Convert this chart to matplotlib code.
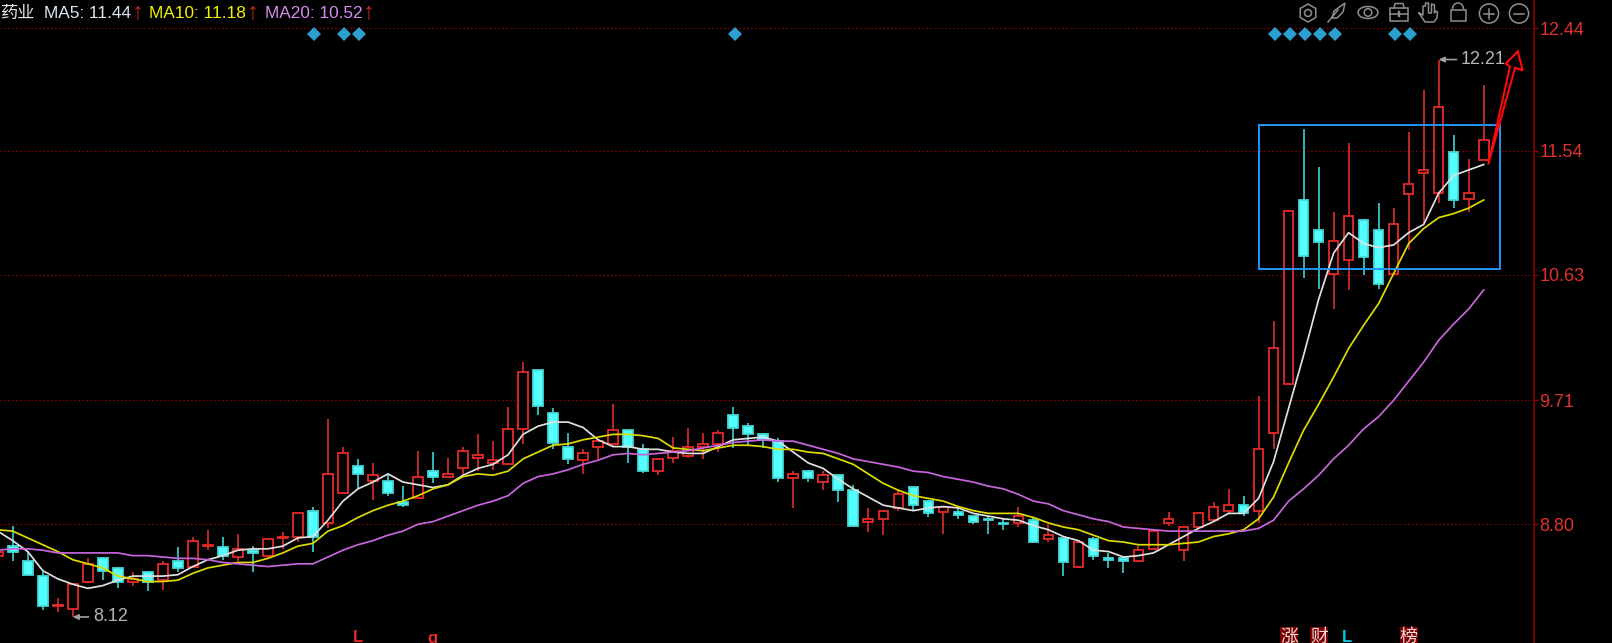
"""
K-line chart with MA5/MA10/MA20, box and arrow annotations, dark terminal style.
"""

import matplotlib
matplotlib.use('Agg')
import matplotlib.pyplot as plt
from matplotlib.patches import Circle, Ellipse, Polygon, Rectangle, RegularPolygon, Arc

plt.rcParams['font.family'] = ['Liberation Sans', 'Noto Sans CJK SC', 'DejaVu Sans']

# Candles
opens = [8.57, 8.64, 8.53, 8.42, 8.20, 8.18, 8.38, 8.55, 8.48, 8.38,
         8.45, 8.39, 8.53, 8.49, 8.64, 8.63, 8.56, 8.61, 8.57, 8.70,
         8.71, 8.90, 8.81, 9.03, 9.23, 9.12, 9.12, 8.96, 8.99, 9.19,
         9.15, 9.21, 9.29, 9.25, 9.24, 9.50, 9.93, 9.62, 9.37, 9.27,
         9.37, 9.39, 9.49, 9.35, 9.19, 9.29, 9.30, 9.37, 9.39, 9.60,
         9.52, 9.46, 9.41, 9.14, 9.19, 9.11, 9.16, 9.05, 8.82, 8.84,
         8.92, 9.07, 8.97, 8.89, 8.89, 8.86, 8.84, 8.81, 8.81, 8.83,
         8.69, 8.70, 8.49, 8.69, 8.55, 8.55, 8.53, 8.62, 8.81, 8.61,
         8.78, 8.83, 8.90, 8.94, 8.90, 9.47, 9.83, 11.18, 10.96, 10.64,
         10.74, 11.03, 10.96, 10.64, 11.22, 11.38, 11.23, 11.53, 11.19, 11.47]
closes = [8.60, 8.60, 8.43, 8.20, 8.21, 8.36, 8.51, 8.46, 8.38, 8.40,
          8.38, 8.51, 8.48, 8.68, 8.65, 8.57, 8.62, 8.59, 8.69, 8.71,
          8.88, 8.71, 9.17, 9.32, 9.17, 9.16, 9.03, 8.94, 9.15, 9.15,
          9.17, 9.34, 9.31, 9.27, 9.50, 9.92, 9.67, 9.40, 9.28, 9.32,
          9.41, 9.49, 9.37, 9.19, 9.28, 9.34, 9.37, 9.39, 9.47, 9.51,
          9.46, 9.42, 9.14, 9.17, 9.14, 9.16, 9.05, 8.79, 8.84, 8.90,
          9.02, 8.94, 8.88, 8.93, 8.87, 8.82, 8.83, 8.80, 8.86, 8.67,
          8.72, 8.52, 8.67, 8.57, 8.54, 8.53, 8.61, 8.75, 8.84, 8.78,
          8.88, 8.93, 8.94, 8.88, 9.35, 10.09, 11.10, 10.77, 10.87, 10.88,
          11.06, 10.76, 10.56, 11.00, 11.30, 11.40, 11.86, 11.18, 11.23, 11.62]
highs = [8.60, 8.79, 8.60, 8.45, 8.26, 8.37, 8.55, 8.56, 8.49, 8.45,
         8.46, 8.53, 8.63, 8.71, 8.76, 8.71, 8.73, 8.64, 8.70, 8.74,
         8.89, 8.93, 9.57, 9.37, 9.28, 9.25, 9.16, 9.08, 9.34, 9.33,
         9.29, 9.37, 9.46, 9.41, 9.66, 9.99, 9.93, 9.65, 9.47, 9.35,
         9.41, 9.68, 9.49, 9.39, 9.28, 9.44, 9.51, 9.47, 9.49, 9.66,
         9.54, 9.47, 9.43, 9.19, 9.19, 9.19, 9.16, 9.09, 8.92, 8.90,
         9.05, 9.07, 8.98, 8.93, 8.92, 8.86, 8.86, 8.84, 8.93, 8.85,
         8.80, 8.70, 8.67, 8.71, 8.59, 8.56, 8.64, 8.75, 8.89, 8.79,
         8.88, 8.96, 9.06, 9.01, 9.74, 10.29, 11.10, 11.70, 11.42, 11.09,
         11.60, 11.04, 11.16, 11.12, 11.68, 11.99, 12.21, 11.66, 11.48, 12.02]
lows = [8.57, 8.53, 8.42, 8.17, 8.16, 8.12, 8.37, 8.39, 8.33, 8.35,
        8.31, 8.32, 8.45, 8.48, 8.61, 8.54, 8.53, 8.45, 8.55, 8.62,
        8.67, 8.60, 8.77, 9.03, 9.06, 8.98, 9.01, 8.93, 8.99, 9.10,
        9.15, 9.16, 9.19, 9.20, 9.24, 9.39, 9.60, 9.35, 9.24, 9.17,
        9.28, 9.37, 9.25, 9.18, 9.16, 9.25, 9.29, 9.28, 9.33, 9.36,
        9.38, 9.36, 9.11, 8.92, 9.11, 9.05, 8.96, 8.78, 8.74, 8.72,
        8.90, 8.90, 8.85, 8.73, 8.84, 8.80, 8.73, 8.76, 8.78, 8.66,
        8.67, 8.42, 8.48, 8.54, 8.48, 8.44, 8.53, 8.61, 8.79, 8.53,
        8.77, 8.83, 8.88, 8.86, 8.81, 9.35, 9.83, 10.61, 10.53, 10.38,
        10.52, 10.63, 10.53, 10.63, 10.81, 11.00, 11.16, 11.12, 11.09, 11.47]

ma5 = [8.75, 8.68, 8.60, 8.46, 8.40, 8.36, 8.33, 8.35, 8.39, 8.42,
       8.42, 8.42, 8.43, 8.49, 8.54, 8.57, 8.61, 8.62, 8.62, 8.64,
       8.70, 8.71, 8.83, 8.97, 9.06, 9.11, 9.17, 9.11, 9.09, 9.07,
       9.09, 9.16, 9.21, 9.24, 9.31, 9.46, 9.52, 9.55, 9.55, 9.51,
       9.42, 9.37, 9.37, 9.35, 9.35, 9.33, 9.32, 9.32, 9.37, 9.42,
       9.43, 9.44, 9.41, 9.33, 9.25, 9.21, 9.13, 9.06, 9.00, 8.94,
       8.92, 8.90, 8.92, 8.93, 8.92, 8.88, 8.86, 8.84, 8.83, 8.79,
       8.76, 8.71, 8.68, 8.61, 8.60, 8.56, 8.57, 8.59, 8.65, 8.71,
       8.77, 8.82, 8.88, 8.88, 8.99, 9.26, 9.65, 10.04, 10.45, 10.79,
       10.94, 10.86, 10.83, 10.85, 10.94, 11.00, 11.23, 11.36, 11.40, 11.44]
ma10 = [8.76, 8.75, 8.70, 8.65, 8.60, 8.54, 8.51, 8.48, 8.42, 8.40,
        8.38, 8.38, 8.39, 8.44, 8.48, 8.50, 8.52, 8.52, 8.55, 8.59,
        8.64, 8.66, 8.75, 8.79, 8.85, 8.90, 8.94, 8.97, 9.01, 9.06,
        9.09, 9.15, 9.17, 9.16, 9.19, 9.28, 9.33, 9.38, 9.39, 9.42,
        9.44, 9.46, 9.46, 9.45, 9.43, 9.36, 9.35, 9.34, 9.36, 9.38,
        9.38, 9.37, 9.35, 9.35, 9.33, 9.32, 9.28, 9.24, 9.17, 9.10,
        9.05, 9.01, 8.99, 8.97, 8.93, 8.90, 8.88, 8.88, 8.88, 8.85,
        8.81, 8.78, 8.76, 8.72, 8.68, 8.67, 8.65, 8.65, 8.65, 8.66,
        8.67, 8.71, 8.73, 8.76, 8.84, 9.00, 9.25, 9.49, 9.68, 9.88,
        10.09, 10.26, 10.42, 10.64, 10.86, 10.97, 11.05, 11.08, 11.12, 11.18]
ma20 = [8.61, 8.62, 8.62, 8.61, 8.59, 8.59, 8.59, 8.59, 8.59, 8.57,
        8.57, 8.56, 8.55, 8.55, 8.54, 8.52, 8.51, 8.50, 8.49, 8.50,
        8.51, 8.51, 8.56, 8.61, 8.65, 8.68, 8.72, 8.75, 8.80, 8.82,
        8.86, 8.90, 8.94, 8.97, 9.01, 9.10, 9.15, 9.17, 9.20, 9.24,
        9.27, 9.31, 9.32, 9.31, 9.32, 9.33, 9.34, 9.36, 9.38, 9.40,
        9.41, 9.42, 9.41, 9.41, 9.38, 9.35, 9.32, 9.28, 9.26, 9.24,
        9.22, 9.19, 9.18, 9.15, 9.13, 9.11, 9.08, 9.06, 9.02, 8.97,
        8.95, 8.90, 8.87, 8.84, 8.82, 8.78, 8.77, 8.76, 8.75, 8.75,
        8.75, 8.75, 8.75, 8.75, 8.77, 8.83, 8.97, 9.06, 9.16, 9.28,
        9.38, 9.50, 9.59, 9.71, 9.85, 9.99, 10.15, 10.27, 10.38, 10.52]

y_ticks = [8.80, 9.71, 10.63, 11.54, 12.44]
signal_days = [21, 23, 24, 49, 85, 86, 87, 88, 89, 93, 94]

# Drawn annotations, in candle index and price
box_x = [84.0, 100.07]
box_y = [10.67, 11.73]
arrow_x = [99.3, 100.75, 100.47, 101.27, 101.6, 101.09]
arrow_y = [11.44, 12.16, 12.18, 12.27, 12.13, 12.15]

RED = '#e62a2a'
RED_WICK = '#cc2a2a'
CYAN = '#54ffff'
CYAN_WICK = '#38c4c4'
GRID = '#8a0000'

fig = plt.figure(figsize=(16.12, 6.43), dpi=100, facecolor='black')
ax = fig.add_axes([0, 0, 1534 / 1612, 1], facecolor='black')
ax.set_xlim(0.153, 102.35)
ax.set_ylim(7.929, 12.647)

# Price axis on the right
ax.yaxis.tick_right()
ax.set_yticks(y_ticks)
ax.set_yticklabels([f"{v:.2f}" for v in y_ticks], color='#e0312c', fontsize=13)
ax.tick_params(axis='y', colors=GRID, labelcolor='#e0312c', length=3, width=1, pad=1)
ax.set_xticks([])
for side in ['left', 'top', 'bottom']:
    ax.spines[side].set_visible(False)
ax.spines['right'].set_color('#7a0000')
ax.spines['right'].set_linewidth(1.4)
ax.grid(axis='y', color=GRID, linewidth=0.8, linestyle=(0, (1.5, 2)))
ax.set_axisbelow(True)

# Candles: wicks first, the black body fill hides them inside
days = list(range(len(opens)))
for i in days:
    up = closes[i] >= opens[i]
    ax.vlines(i, lows[i], highs[i], color=RED_WICK if up else CYAN_WICK, linewidth=1.3, zorder=2)
    bottom = min(opens[i], closes[i])
    height = abs(closes[i] - opens[i])
    ax.bar(i, height, bottom=bottom, width=0.64,
           facecolor='black' if up else CYAN,
           edgecolor=RED if up else '#43d8d8',
           linewidth=1.3, zorder=3)

ax.plot(days, ma5, color='#e0e0e0', linewidth=1.25, zorder=4)
ax.plot(days, ma10, color='#dcdc00', linewidth=1.25, zorder=4)
ax.plot(days, ma20, color='#c865dc', linewidth=1.25, zorder=4)

# Signal diamonds sit at a fixed height under the top grid line
ax.plot([d + 0.1 for d in signal_days], [12.397] * len(signal_days), linestyle='none',
        marker='D', markersize=7.2, color='#2a9fd0', markeredgewidth=0, zorder=5)

# Box and hollow arrow
ax.add_patch(Rectangle((box_x[0], box_y[0]), box_x[1] - box_x[0], box_y[1] - box_y[0],
                       fill=False, edgecolor='#2196f3', linewidth=1.4, zorder=6))
ax.add_patch(Polygon(list(zip(arrow_x, arrow_y)), closed=True, fill=False,
                     edgecolor='#ff0a0a', linewidth=1.5, zorder=7, clip_on=False))

# High and low labels
label_col = '#b0b6bb'
ax.annotate("12.21", xy=(96, 12.21), xytext=(22, 0), textcoords='offset pixels',
            color=label_col, fontsize=13, va='center', ha='left',
            arrowprops=dict(arrowstyle='-|>,head_length=0.25,head_width=0.12', color='#a0a0a0',
                            linewidth=1.2, shrinkA=1, shrinkB=0), zorder=7)
ax.annotate("8.12", xy=(5, 8.12), xytext=(20, 0), textcoords='offset pixels',
            color=label_col, fontsize=13, va='center', ha='left',
            arrowprops=dict(arrowstyle='-|>,head_length=0.25,head_width=0.12', color='#a0a0a0',
                            linewidth=1.2, shrinkA=1, shrinkB=0), zorder=7)

# Overlay in pixel coordinates for header, toolbar and bottom flags
ov = fig.add_axes([0, 0, 1, 1], facecolor='none')
ov.set_xlim(0, 1612)
ov.set_ylim(643, 0)
ov.axis('off')

header = [("药业", 1, '#e8e8e8'), ("MA5: 11.44", 43.5, '#dde6f2'),
          ("MA10: 11.18", 149, '#f2f200'), ("MA20: 10.52", 265, '#d78cf0')]
for txt, x, col in header:
    ov.text(x, 13.5, txt, color=col, fontsize=12.4, va='center', ha='left')
for x in [138, 253, 369]:
    ov.text(x, 13.5, "↑", color='#c42a1c', fontsize=17, va='center', ha='center')

# Toolbar icons
ic = '#8f8f8f'
lw = 1.1
ov.add_patch(RegularPolygon((1308, 13), 6, radius=9, fill=False, edgecolor=ic, linewidth=lw, joinstyle='round'))
ov.add_patch(Circle((1308, 13), 3.5, fill=False, edgecolor=ic, linewidth=lw))
ov.add_patch(Polygon([(1332, 18), (1334, 11), (1345, 3), (1343, 12), (1337, 18)], closed=True,
                     fill=False, edgecolor=ic, linewidth=lw))
ov.plot([1328, 1338], [22, 10], color=ic, linewidth=lw)
ov.add_patch(Ellipse((1368, 12.5), 20, 12, fill=False, edgecolor=ic, linewidth=lw))
ov.add_patch(Circle((1368, 12.5), 3.8, fill=False, edgecolor=ic, linewidth=lw))
ov.add_patch(Rectangle((1390, 8), 18, 13, fill=False, edgecolor=ic, linewidth=lw))
ov.plot([1394, 1395, 1403, 1404], [8, 3.5, 3.5, 8], color=ic, linewidth=lw)
ov.plot([1390, 1408], [13.5, 13.5], color=ic, linewidth=lw)
ov.plot([1399, 1399], [12, 16], color=ic, linewidth=lw + 0.6)
ov.plot([1419, 1423, 1423, 1425.5, 1425.5, 1428.5, 1428.5, 1431.5, 1431.5, 1434.5, 1434.5, 1436, 1437.5, 1437, 1434, 1425, 1419],
        [13, 15, 6, 6, 3, 3, 13, 13, 4, 5, 13, 11, 12, 18, 22, 22, 13], color=ic, linewidth=lw)
ov.add_patch(Rectangle((1451, 9.5), 15, 11.5, fill=False, edgecolor=ic, linewidth=lw))
ov.add_patch(Arc((1458, 9), 11, 12, theta1=180, theta2=360, edgecolor=ic, linewidth=lw))
ov.add_patch(Circle((1489, 13.5), 9.6, fill=False, edgecolor=ic, linewidth=lw))
ov.plot([1484, 1494], [13.5, 13.5], color=ic, linewidth=lw)
ov.plot([1489, 1489], [8.5, 18.5], color=ic, linewidth=lw)
ov.add_patch(Circle((1519, 13.5), 9.6, fill=False, edgecolor=ic, linewidth=lw))
ov.plot([1514, 1524], [13.5, 13.5], color=ic, linewidth=lw)

# Bottom flags, the reference cuts these at its lower edge too
ov.text(353, 642, "L", color='#e82a2a', fontsize=12, fontweight='bold', va='baseline', ha='left', clip_on=False)
ov.text(432, 642.5, "q", color='#e82a2a', fontsize=12, fontweight='bold', va='baseline', ha='center', clip_on=False)
ov.text(1342, 642, "L", color='#00c8e8', fontsize=12, fontweight='bold', va='baseline', ha='left', clip_on=False)
for txt, x in [("涨", 1289), ("财", 1319), ("榜", 1409)]:
    ov.add_patch(Rectangle((x - 9, 627), 18, 16, facecolor='#7a0000', edgecolor='none'))
    ov.text(x, 642, txt, color='#f0d8d8', fontsize=13, va='baseline', ha='center',
            family=['Noto Sans CJK SC', 'DejaVu Sans'], clip_on=False)

fig.savefig('out.png', dpi=100, facecolor='black')
